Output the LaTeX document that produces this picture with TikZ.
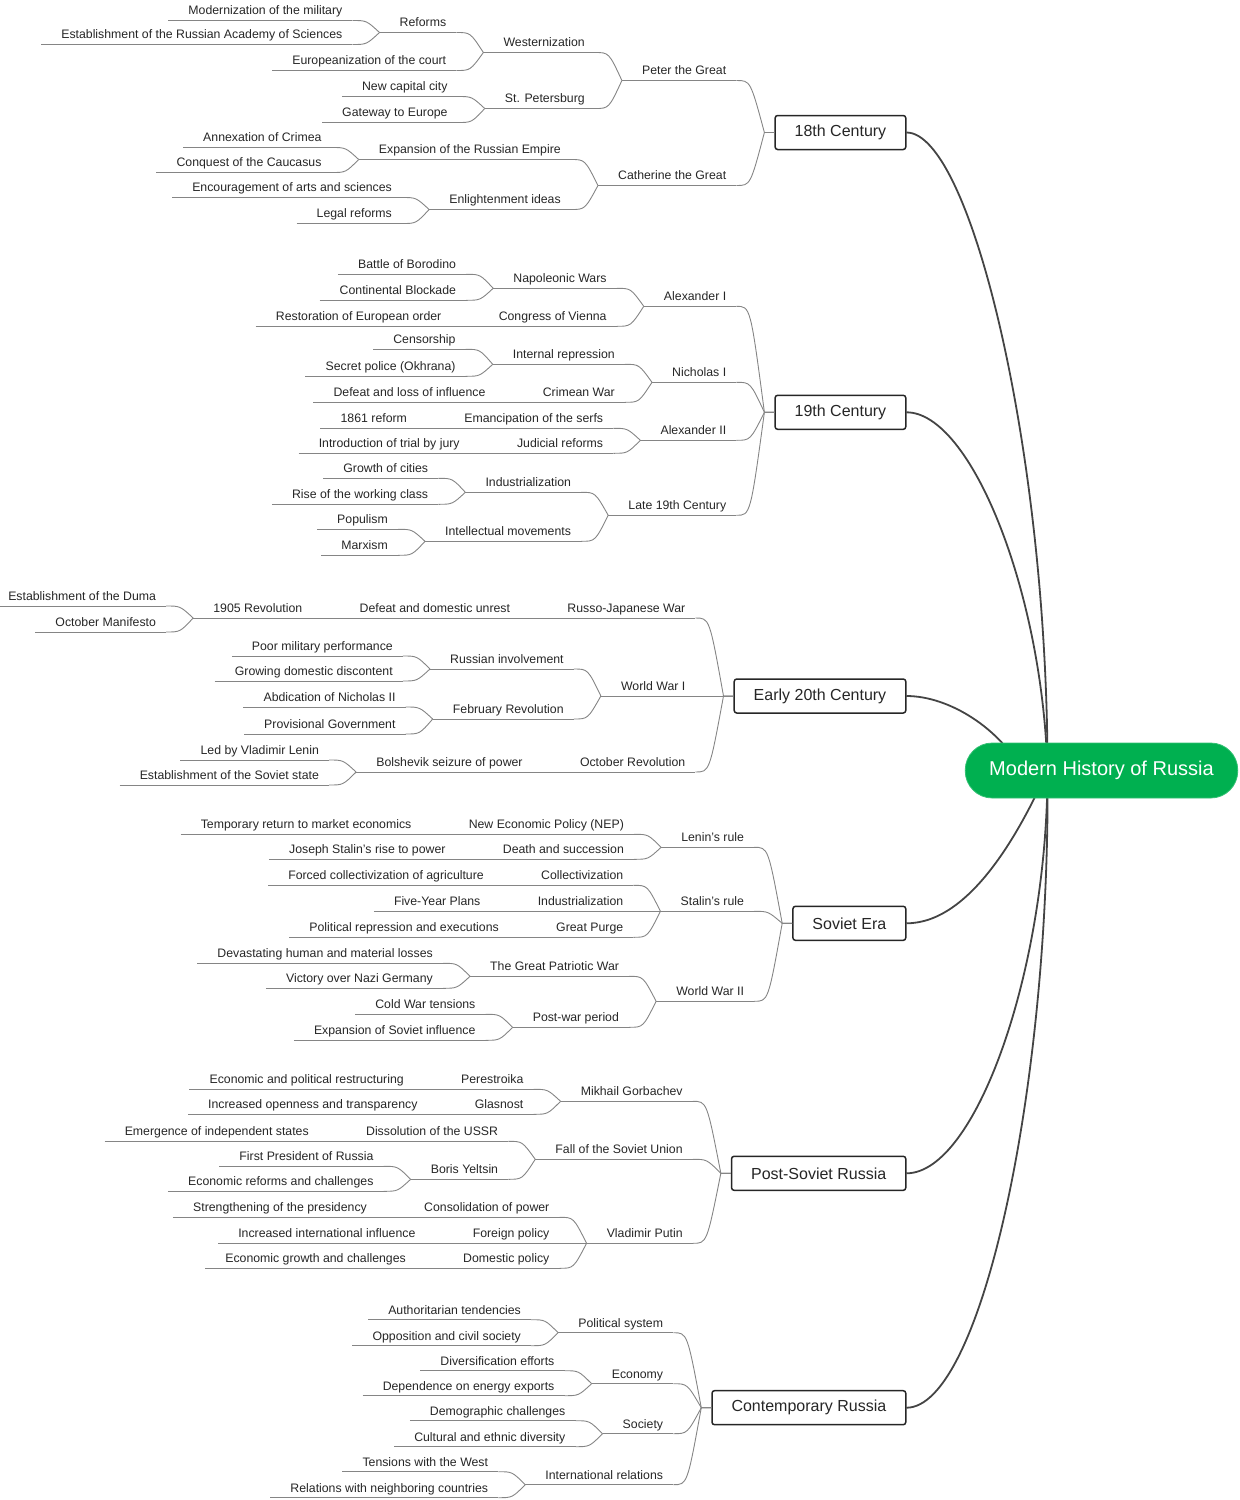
\documentclass[tikz,border=0pt]{standalone}
\usepackage{fontspec}
\setmainfont{Liberation Sans}
\usepackage{tikz}
\usetikzlibrary{calc,positioning,backgrounds}
\definecolor{rootgreen}{HTML}{00B050}
\definecolor{ink}{HTML}{262626}
\definecolor{wire}{HTML}{858585}
\definecolor{trunkgray}{HTML}{444444}
\tikzset{
  uline/.style={draw=wire, line width=0.9pt},
  link/.style={draw=wire, line width=0.9pt},
  trunk/.style={draw=trunkgray, line width=1.8pt},
  topic/.style={font=\fontsize{12.3}{14}\selectfont, text=ink, inner xsep=0pt, inner ysep=3pt,
    text height=9pt, text depth=2.5pt, anchor=south east,
    append after command={([xshift=-20pt]\tikzlastnode.south west) edge[uline] ([xshift=10pt]\tikzlastnode.south east)}},
  cat/.style={draw=ink, line width=1.5pt, rounded corners=2.5pt, fill=white, text=ink,
    font=\fontsize{16}{19}\selectfont, inner xsep=19.5pt, minimum height=34pt, anchor=east},
  rootnode/.style={fill=rootgreen, draw=rootgreen!80!white, line width=0.8pt, rounded corners=27pt,
    text=white, font=\fontsize{20}{24}\selectfont, inner xsep=24pt, minimum height=55pt}
}
\begin{document}
\begin{tikzpicture}[x=1pt,y=-1pt]
\useasboundingbox (0,0) rectangle (1240,1500);
\node[rootnode] (root) at (1101.5,770.5) {Modern History of Russia};
\coordinate (hub) at ([xshift=-54pt]root.center);
\coordinate (hubw) at ([xshift=-80pt]root.center);

\node[cat] (c18) at (906.5,132.5) {18th Century};
\node[above left=52pt and 48pt of c18.west, topic] (pg) {Peter the Great};
\node[above left=28pt and 57pt of pg.south west, topic] (wz) {Westernization};
\node[above left=20pt and 57pt of wz.south west, topic] (rf) {Reforms};
\node[above left=12pt and 57pt of rf.south west, topic] (mm) {Modernization of the military};
\node[below left=12pt and 57pt of rf.south west, topic] (ras) {Establishment of the Russian Academy of Sciences};
\node[below left=18pt and 57pt of wz.south west, topic] (ec) {Europeanization of the court};
\node[below left=28pt and 57pt of pg.south west, topic] (sp) {St. Petersburg};
\node[above left=12pt and 57pt of sp.south west, topic] (ncc) {New capital city};
\node[below left=14pt and 57pt of sp.south west, topic] (gte) {Gateway to Europe};
\node[below left=53pt and 48pt of c18.west, topic] (cg) {Catherine the Great};
\node[above left=26pt and 57pt of cg.south west, topic] (exp) {Expansion of the Russian Empire};
\node[above left=12pt and 57pt of exp.south west, topic] (crim) {Annexation of Crimea};
\node[below left=13pt and 57pt of exp.south west, topic] (cauc) {Conquest of the Caucasus};
\node[below left=24pt and 57pt of cg.south west, topic] (enl) {Enlightenment ideas};
\node[above left=12pt and 57pt of enl.south west, topic] (arts) {Encouragement of arts and sciences};
\node[below left=14pt and 57pt of enl.south west, topic] (legal) {Legal reforms};

\node[cat] (c19) at (906.5,412.3) {19th Century};
\node[above left=106pt and 48pt of c19.west, topic] (a1) {Alexander I};
\node[above left=18pt and 57pt of a1.south west, topic] (nap) {Napoleonic Wars};
\node[above left=14pt and 57pt of nap.south west, topic] (bor) {Battle of Borodino};
\node[below left=12pt and 57pt of nap.south west, topic] (blk) {Continental Blockade};
\node[below left=20pt and 57pt of a1.south west, topic] (cov) {Congress of Vienna};
\node[left=57pt of cov.south west, topic] (reo) {Restoration of European order};
\node[above left=30pt and 48pt of c19.west, topic] (n1) {Nicholas I};
\node[above left=18pt and 57pt of n1.south west, topic] (irp) {Internal repression};
\node[above left=15pt and 57pt of irp.south west, topic] (cen) {Censorship};
\node[below left=12pt and 57pt of irp.south west, topic] (okh) {Secret police (Okhrana)};
\node[below left=20pt and 57pt of n1.south west, topic] (crw) {Crimean War};
\node[left=57pt of crw.south west, topic] (dli) {Defeat and loss of influence};
\node[below left=28pt and 48pt of c19.west, topic] (a2) {Alexander II};
\node[above left=12pt and 57pt of a2.south west, topic] (ems) {Emancipation of the serfs};
\node[left=57pt of ems.south west, topic] (r61) {1861 reform};
\node[below left=13pt and 57pt of a2.south west, topic] (jud) {Judicial reforms};
\node[left=57pt of jud.south west, topic] (jury) {Introduction of trial by jury};
\node[below left=103pt and 48pt of c19.west, topic] (l19) {Late 19th Century};
\node[above left=23pt and 57pt of l19.south west, topic] (ind) {Industrialization};
\node[above left=14pt and 57pt of ind.south west, topic] (goc) {Growth of cities};
\node[below left=12pt and 57pt of ind.south west, topic] (rwc) {Rise of the working class};
\node[below left=26pt and 57pt of l19.south west, topic] (imv) {Intellectual movements};
\node[above left=12pt and 57pt of imv.south west, topic] (pop) {Populism};
\node[below left=14pt and 57pt of imv.south west, topic] (marx) {Marxism};

\node[cat] (c20) at (906.5,696) {Early 20th Century};
\node[above left=78pt and 48pt of c20.west, topic] (rjw) {Russo-Japanese War};
\node[left=57pt of rjw.south west, topic] (ddu) {Defeat and domestic unrest};
\node[left=57pt of ddu.south west, topic] (r05) {1905 Revolution};
\node[above left=12pt and 57pt of r05.south west, topic] (duma) {Establishment of the Duma};
\node[below left=14pt and 57pt of r05.south west, topic] (oman) {October Manifesto};
\node[left=48pt of c20.west, topic] (ww1) {World War I};
\node[above left=27pt and 57pt of ww1.south west, topic] (rin) {Russian involvement};
\node[above left=13pt and 57pt of rin.south west, topic] (pmp) {Poor military performance};
\node[below left=12pt and 57pt of rin.south west, topic] (gdd) {Growing domestic discontent};
\node[below left=23pt and 57pt of ww1.south west, topic] (feb) {February Revolution};
\node[above left=12pt and 57pt of feb.south west, topic] (abd) {Abdication of Nicholas II};
\node[below left=15pt and 57pt of feb.south west, topic] (prov) {Provisional Government};
\node[below left=76pt and 48pt of c20.west, topic] (octr) {October Revolution};
\node[left=57pt of octr.south west, topic] (bsp) {Bolshevik seizure of power};
\node[above left=12pt and 57pt of bsp.south west, topic] (lenin) {Led by Vladimir Lenin};
\node[below left=13pt and 57pt of bsp.south west, topic] (sst) {Establishment of the Soviet state};

\node[cat] (sov) at (906.5,923.3) {Soviet Era};
\node[above left=76pt and 48pt of sov.west, topic] (lr) {Lenin's rule};
\node[above left=13pt and 57pt of lr.south west, topic] (nep) {New Economic Policy (NEP)};
\node[left=57pt of nep.south west, topic] (trm) {Temporary return to market economics};
\node[below left=12pt and 57pt of lr.south west, topic] (das) {Death and succession};
\node[left=57pt of das.south west, topic] (jsr) {Joseph Stalin's rise to power};
\node[above left=12pt and 48pt of sov.west, topic] (sr) {Stalin's rule};
\node[above left=26pt and 57pt of sr.south west, topic] (col) {Collectivization};
\node[left=57pt of col.south west, topic] (fca) {Forced collectivization of agriculture};
\node[left=57pt of sr.south west, topic] (sind) {Industrialization};
\node[left=57pt of sind.south west, topic] (fyp) {Five-Year Plans};
\node[below left=26pt and 57pt of sr.south west, topic] (gp) {Great Purge};
\node[left=57pt of gp.south west, topic] (pre) {Political repression and executions};
\node[below left=78pt and 48pt of sov.west, topic] (ww2) {World War II};
\node[above left=25pt and 57pt of ww2.south west, topic] (gpw) {The Great Patriotic War};
\node[above left=13pt and 57pt of gpw.south west, topic] (dev) {Devastating human and material losses};
\node[below left=12pt and 57pt of gpw.south west, topic] (vng) {Victory over Nazi Germany};
\node[below left=26pt and 57pt of ww2.south west, topic] (pwp) {Post-war period};
\node[above left=13pt and 57pt of pwp.south west, topic] (cwt) {Cold War tensions};
\node[below left=13pt and 57pt of pwp.south west, topic] (esi) {Expansion of Soviet influence};

\node[cat] (post) at (906.5,1173.3) {Post-Soviet Russia};
\node[above left=72pt and 48pt of post.west, topic] (gor) {Mikhail Gorbachev};
\node[above left=12pt and 57pt of gor.south west, topic] (per) {Perestroika};
\node[left=57pt of per.south west, topic] (epr) {Economic and political restructuring};
\node[below left=13pt and 57pt of gor.south west, topic] (gla) {Glasnost};
\node[left=57pt of gla.south west, topic] (iot) {Increased openness and transparency};
\node[above left=14pt and 48pt of post.west, topic] (fsu) {Fall of the Soviet Union};
\node[above left=18pt and 57pt of fsu.south west, topic] (dis) {Dissolution of the USSR};
\node[left=57pt of dis.south west, topic] (eis) {Emergence of independent states};
\node[below left=20pt and 57pt of fsu.south west, topic] (yel) {Boris Yeltsin};
\node[above left=13pt and 57pt of yel.south west, topic] (fpr) {First President of Russia};
\node[below left=12pt and 57pt of yel.south west, topic] (erc) {Economic reforms and challenges};
\node[below left=70pt and 48pt of post.west, topic] (put) {Vladimir Putin};
\node[above left=26pt and 57pt of put.south west, topic] (cop) {Consolidation of power};
\node[left=57pt of cop.south west, topic] (sop) {Strengthening of the presidency};
\node[left=57pt of put.south west, topic] (fp) {Foreign policy};
\node[left=57pt of fp.south west, topic] (iii) {Increased international influence};
\node[below left=25pt and 57pt of put.south west, topic] (dp) {Domestic policy};
\node[left=57pt of dp.south west, topic] (egc) {Economic growth and challenges};

\node[cat] (cont) at (906.5,1407.7) {Contemporary Russia};
\node[above left=75pt and 48pt of cont.west, topic] (pol) {Political system};
\node[above left=13pt and 57pt of pol.south west, topic] (aut) {Authoritarian tendencies};
\node[below left=13pt and 57pt of pol.south west, topic] (ocs) {Opposition and civil society};
\node[above left=24pt and 48pt of cont.west, topic] (eco) {Economy};
\node[above left=13pt and 57pt of eco.south west, topic] (div) {Diversification efforts};
\node[below left=12pt and 57pt of eco.south west, topic] (dee) {Dependence on energy exports};
\node[below left=26pt and 48pt of cont.west, topic] (soc) {Society};
\node[above left=13pt and 57pt of soc.south west, topic] (dem) {Demographic challenges};
\node[below left=13pt and 57pt of soc.south west, topic] (ced) {Cultural and ethnic diversity};
\node[below left=77pt and 48pt of cont.west, topic] (intl) {International relations};
\node[above left=13pt and 57pt of intl.south west, topic] (tww) {Tensions with the West};
\node[below left=13pt and 57pt of intl.south west, topic] (rnc) {Relations with neighboring countries};

\foreach \c/\p in {mm/rf, ras/rf, rf/wz, ec/wz, wz/pg, ncc/sp, gte/sp, sp/pg, crim/exp, cauc/exp,
    exp/cg, arts/enl, legal/enl, enl/cg,
    bor/nap, blk/nap, nap/a1, reo/cov, cov/a1, cen/irp, okh/irp, irp/n1, dli/crw, crw/n1,
    r61/ems, ems/a2, jury/jud, jud/a2, goc/ind, rwc/ind, ind/l19, pop/imv, marx/imv, imv/l19,
    duma/r05, oman/r05, r05/ddu, ddu/rjw, pmp/rin, gdd/rin, rin/ww1, abd/feb, prov/feb, feb/ww1,
    lenin/bsp, sst/bsp, bsp/octr,
    trm/nep, nep/lr, jsr/das, das/lr, fca/col, col/sr, fyp/sind, sind/sr, pre/gp, gp/sr,
    dev/gpw, vng/gpw, gpw/ww2, cwt/pwp, esi/pwp, pwp/ww2,
    epr/per, per/gor, iot/gla, gla/gor, eis/dis, dis/fsu, fpr/yel, erc/yel, yel/fsu,
    sop/cop, cop/put, iii/fp, fp/put, egc/dp, dp/put,
    aut/pol, ocs/pol, div/eco, dee/eco, dem/soc, ced/soc, tww/intl, rnc/intl}
  \draw[link] ([xshift=10pt]\c.south east) .. controls +(14,0) .. ([xshift=-20pt]\p.south west);
\foreach \c/\p in {pg/c18, cg/c18, a1/c19, n1/c19, a2/c19, l19/c19, rjw/c20, ww1/c20, octr/c20,
    lr/sov, sr/sov, ww2/sov, gor/post, fsu/post, put/post, pol/cont, eco/cont, soc/cont, intl/cont}
  \draw[link] ([xshift=10pt]\c.south east) .. controls +(14,0) .. ([xshift=-10pt]\p.west) -- (\p.west);

\begin{scope}[on background layer]
\draw[trunk] (c18.east) .. controls +(64,0) and +(0,-320) .. (hub);
\draw[trunk] (c19.east) .. controls +(64,0) and +(-5,-180) .. (hub);
\draw[trunk] (c20.east) .. controls +(44,0) and +(-20,-40) .. (hubw);
\draw[trunk] (sov.east) .. controls +(64,0) and +(-27,60) .. (hub);
\draw[trunk] (post.east) .. controls +(69,0) and +(0,200) .. (hub);
\draw[trunk] (cont.east) .. controls +(74,0) and +(3,320) .. (hub);
\end{scope}
\end{tikzpicture}
\end{document}
